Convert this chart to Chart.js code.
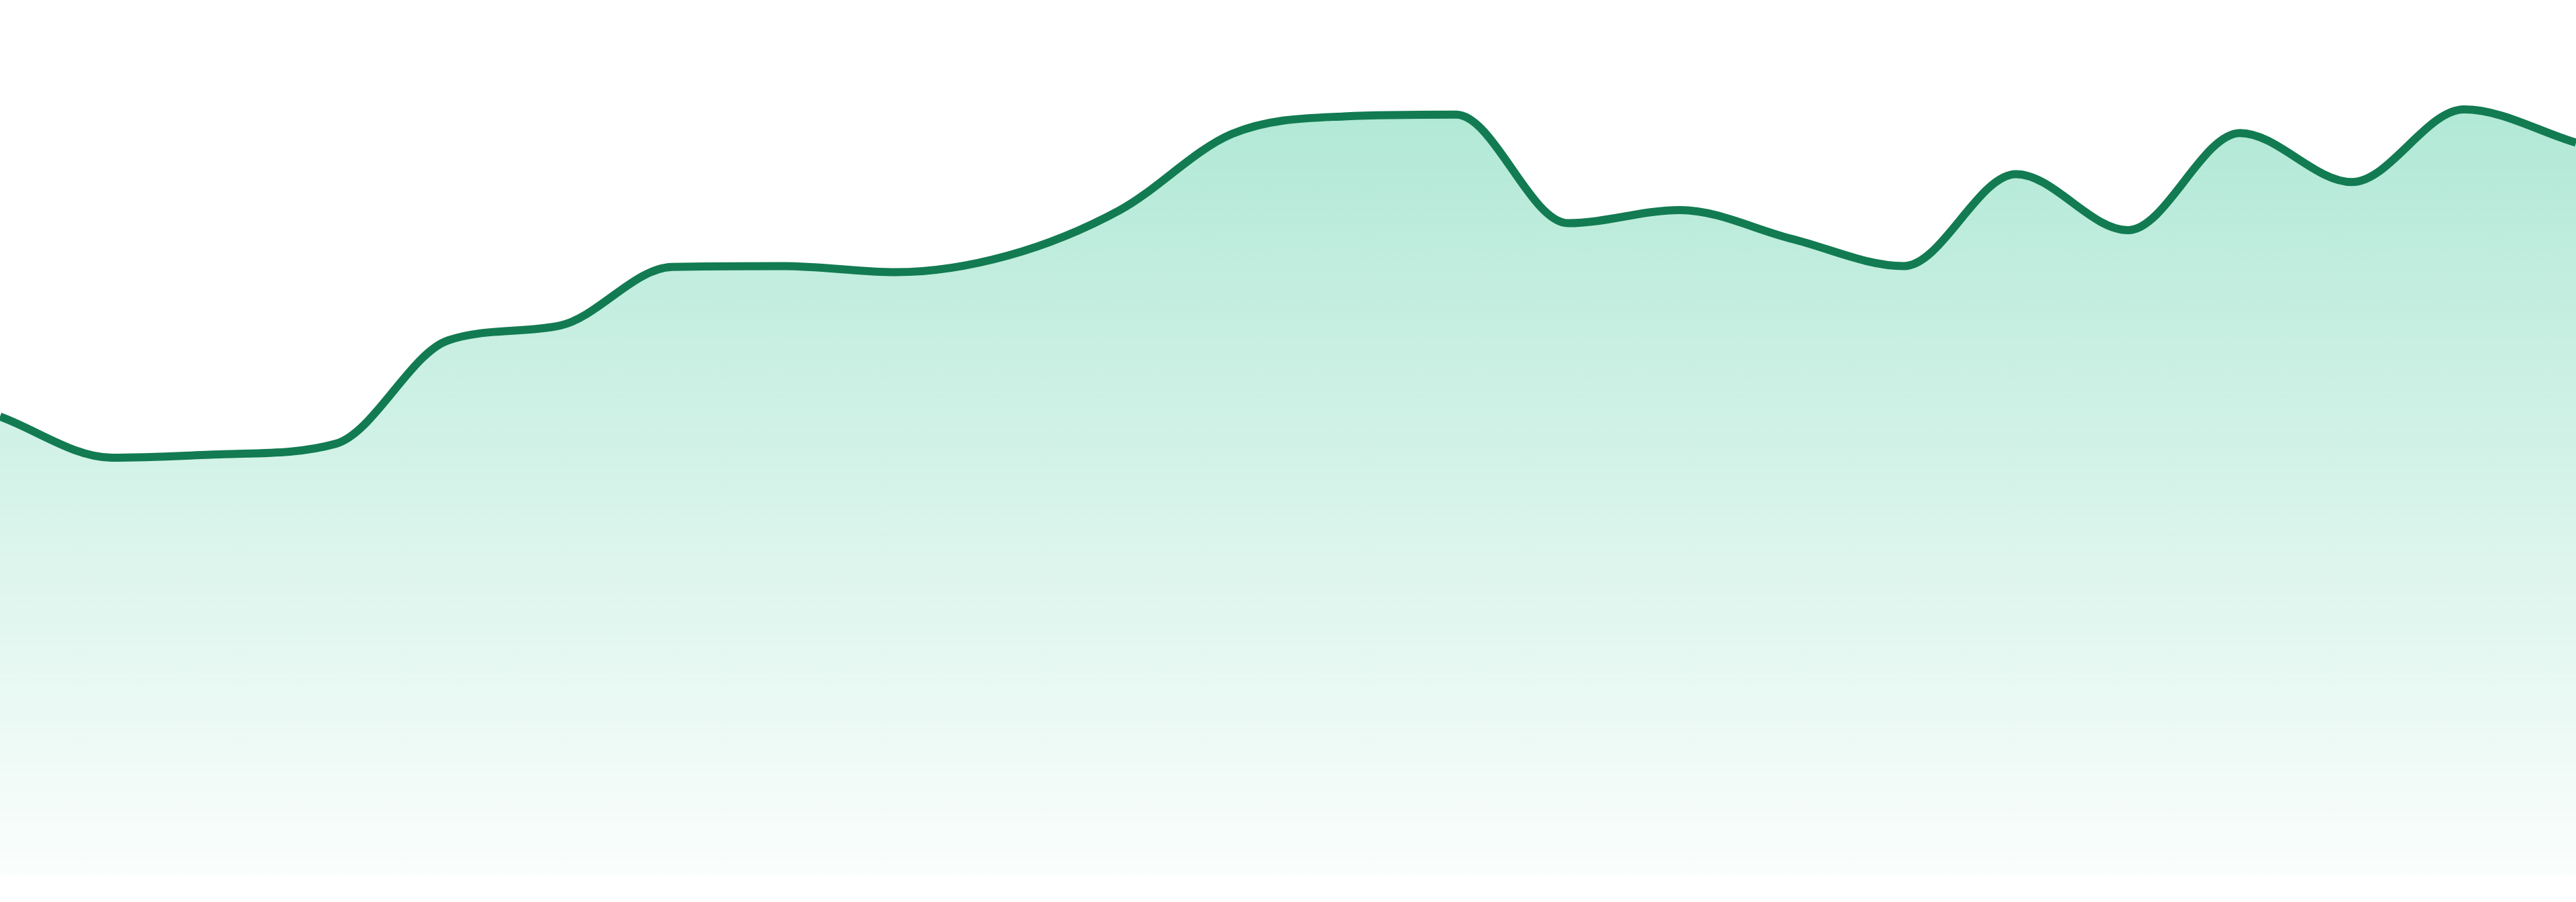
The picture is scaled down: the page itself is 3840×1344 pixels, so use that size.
<!DOCTYPE html>
<html>
<head>
<meta charset="utf-8">
<script src="https://cdn.jsdelivr.net/npm/chart.js@4/dist/chart.umd.min.js"></script>
<style>
html, body { margin: 0; padding: 0; background: #ffffff; }
#wrap { width: 3840px; height: 1344px; position: relative; }
</style>
</head>
<body>
<div id="wrap"><canvas id="areaChart"></canvas></div>
<script>
// data (24 points, y scale 0-100)
var labels = ["1","2","3","4","5","6","7","8","9","10","11","12","13","14","15","16","17","18","19","20","21","22","23","24"];
var values = [52.4, 47.7, 48.1, 49.3, 61.1, 62.8, 69.5, 69.6, 68.9, 70.8, 76.0, 84.7,
              86.7, 86.9, 74.5, 76.0, 72.7, 69.6, 80.1, 73.7, 84.8, 79.2, 87.5, 83.7];
var yMin = 0;
var yMax = 100;

var ctx = document.getElementById("areaChart").getContext('2d');
var areaChart = new Chart(ctx, {
type: 'line',
data: {
labels: labels,
datasets: [
{
    data: values,
    borderColor: '#127b52',
    borderWidth: 12,
    pointRadius: 0,
    pointHoverRadius: 0,
    cubicInterpolationMode: 'monotone',
    fill: 'start',
    backgroundColor: function(context) {
        var area = context.chart.chartArea;
        if (!area) return 'rgba(16,185,129,0.2)';
        var g = context.chart.ctx.createLinearGradient(0, area.top, 0, area.bottom);
        g.addColorStop(0, 'rgba(16,185,129,0.37)');
        g.addColorStop(1, 'rgba(16,185,129,0.02)');
        return g;
    }
}
]
},
options: {
responsive: true,
maintainAspectRatio: false,
animation: false,
layout: { padding: { top: 0, left: 0, right: 0, bottom: 40 } },
plugins: { legend: { display: false }, tooltip: { enabled: false } },
scales: {
    x: { display: false, offset: false },
    y: { display: false, min: yMin, max: yMax }
}
}
});
</script>
</body>
</html>
